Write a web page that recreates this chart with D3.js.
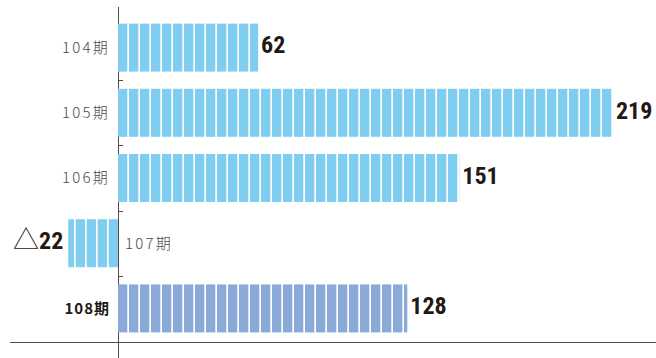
<!DOCTYPE html>
<html>
<head>
<meta charset="utf-8">
<script src="https://cdn.jsdelivr.net/npm/d3@7"></script>
<style>
  html, body { margin: 0; padding: 0; background: #ffffff; }
  svg { display: block; }
</style>
</head>
<body>
<div class="chart"></div>
<script>
// ------------------------------------------------------------------------------------------------------------------
// Data
var periods = ["104期", "105期", "106期", "107期", "108期"];
var values  = [62, 219, 151, -22, 128];
var current = "108期";

// ------------------------------------------------------------------------------------------------------------------
// Global var
var width = 656,
  height = 358,
  axis_x = 118,
  base_y = 342,
  pitch = 11,       // stripe step
  seg_w = 9.3;      // coloured part of one stripe

var light_blue = "#80cdf2",
  dark_blue = "#8aaad9",
  ink = "#231815",
  grey = "#4d4d4d";

var num_font = "'Liberation Sans Narrow', 'Arial Narrow', 'Roboto Condensed', sans-serif";
var jp_font = "'Noto Sans CJK JP', 'Noto Sans', sans-serif";

var svg = d3.select(".chart").append("svg")
  .attr("width", width)
  .attr("height", height);

// ------------------------------------------------------------------------------------------------------------------
// Scales
var x = d3.scaleLinear()
  .domain([0, 100])
  .range([axis_x, axis_x + 226]);

var y = d3.scaleBand()
  .domain(periods)
  .range([15, 341])
  .paddingInner(0.264)
  .paddingOuter(0.132);

// ------------------------------------------------------------------------------------------------------------------
// Axis lines
svg.append("line")
  .attr("x1", 10).attr("x2", width)
  .attr("y1", base_y + 0.5).attr("y2", base_y + 0.5)
  .attr("stroke", grey).attr("stroke-width", 1);

svg.append("line")
  .attr("x1", axis_x + 0.5).attr("x2", axis_x + 0.5)
  .attr("y1", 7).attr("y2", height)
  .attr("stroke", grey).attr("stroke-width", 1);

// small ticks between the bands
var tick_y = periods.slice(1).map(function(p) { return y(p) - y.step() * y.paddingInner() / 2; });
svg.selectAll(".tick_mark")
  .data(tick_y)
  .enter().append("line")
  .attr("class", "tick_mark")
  .attr("x1", axis_x).attr("x2", axis_x + 5)
  .attr("y1", function(d) { return Math.round(d) + 0.5; })
  .attr("y2", function(d) { return Math.round(d) + 0.5; })
  .attr("stroke", grey).attr("stroke-width", 1);

// ------------------------------------------------------------------------------------------------------------------
// Striped bars : one rect per stripe
var rows = periods.map(function(p, i) { return { period: p, value: values[i] }; });

var g = svg.selectAll(".bar")
  .data(rows)
  .enter().append("g")
  .attr("class", "bar");

g.each(function(d) {
  var x0 = x(0), x1 = x(d.value);
  var len = Math.abs(x1 - x0);
  var n = Math.ceil(len / pitch);
  var segs = d3.range(n).map(function(k) {
    var a = k * pitch, b = Math.min(a + seg_w, len);
    return d.value >= 0 ? [x0 + a, x0 + b] : [x0 - b, x0 - a];
  });
  d3.select(this).selectAll("rect")
    .data(segs)
    .enter().append("rect")
    .attr("x", function(s) { return s[0]; })
    .attr("width", function(s) { return s[1] - s[0]; })
    .attr("y", y(d.period))
    .attr("height", y.bandwidth())
    .attr("fill", d.period == current ? dark_blue : light_blue);
});

// ------------------------------------------------------------------------------------------------------------------
// Value labels
var vlab = svg.selectAll(".value")
  .data(rows)
  .enter().append("text")
  .attr("class", "value")
  .attr("x", function(d) { return d.value >= 0 ? x(d.value) + 3 : x(d.value) - 5; })
  .attr("y", function(d) { return y(d.period) + y.bandwidth() / 2; })
  .attr("dy", "0.36em")
  .attr("text-anchor", function(d) { return d.value >= 0 ? "start" : "end"; })
  .attr("fill", ink);

vlab.filter(function(d) { return d.value < 0; })
  .append("tspan")
  .attr("font-family", jp_font)
  .attr("font-size", 26)
  .attr("font-weight", 300)
  .text("△");

vlab.append("tspan")
  .attr("font-family", num_font)
  .attr("font-size", 24)
  .attr("font-weight", "bold")
  .text(function(d) { return Math.abs(d.value); });

// ------------------------------------------------------------------------------------------------------------------
// Period labels
svg.selectAll(".period")
  .data(rows)
  .enter().append("text")
  .attr("class", "period")
  .attr("x", function(d) { return d.value >= 0 ? axis_x - 8 : axis_x + 7; })
  .attr("y", function(d) { return y(d.period) + y.bandwidth() / 2; })
  .attr("dy", "0.36em")
  .attr("text-anchor", function(d) { return d.value >= 0 ? "end" : "start"; })
  .attr("font-family", jp_font)
  .attr("font-size", 15)
  .attr("font-weight", function(d) { return d.period == current ? "bold" : 300; })
  .attr("letter-spacing", function(d) { return d.period == current ? 1 : 2.2; })
  .attr("fill", function(d) { return d.period == current ? ink : "#4a4a4a"; })
  .text(function(d) { return d.period; });
</script>
</body>
</html>
